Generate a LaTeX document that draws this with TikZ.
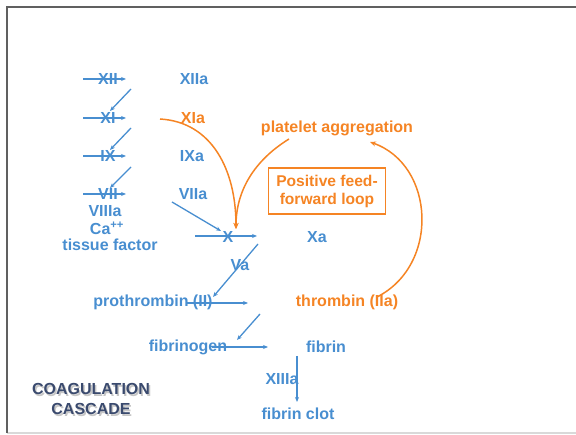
\documentclass[tikz,border=0pt]{standalone}
\usepackage{fontspec}
\setmainfont{Liberation Sans}
\usetikzlibrary{arrows.meta}
\definecolor{cblue}{RGB}{72,142,208}
\definecolor{corange}{RGB}{245,132,36}
\definecolor{cdark}{RGB}{58,74,110}
\begin{document}
\begin{tikzpicture}[x=1pt,y=-1pt,
  lbl/.style={font=\fontsize{16}{18}\selectfont\bfseries, text=cblue, inner sep=0pt},
  olbl/.style={lbl, text=corange},
  bar/.style={draw=cblue, line width=1.3pt, -{Stealth[length=5pt,width=4pt]}},
  oarc/.style={draw=corange, line width=1.5pt, -{Stealth[length=6pt,width=5pt]}},
  title/.style={font=\fontsize{16}{18}\selectfont\bfseries, text=cdark, inner sep=0pt},
  tshadow/.style={title, text=gray!45}]
\useasboundingbox (0,0) rectangle (576,435);
% frame
\draw[gray!30, line width=1.2pt] (7,433) -- (576,433);
\draw[gray!75!black, line width=2pt] (7,433) -- (7,7) -- (576,7);

% left column factors
\node[lbl] (xii) at (108,79) {XII};
\node[lbl] (xi) at (108,118) {XI};
\node[lbl] (ix) at (108,156) {IX};
\node[lbl] (vii) at (108,194) {VII};
\node[lbl] (viiia) at (105,211) {VIIIa};
\node[lbl] (ca) at (107,228) {Ca\textsuperscript{++}};
\node[lbl] (tf) at (110,245) {tissue factor};

% activated factors
\node[lbl] (xiia) at (194,79) {XIIa};
\node[olbl] (xia) at (193,118) {XIa};
\node[lbl] (ixa) at (192,156) {IXa};
\node[lbl] (viia) at (193,194) {VIIa};

% horizontal bars through factors
\coordinate (b1l) at (83,79);  \coordinate (b1r) at (126,79);
\coordinate (b2l) at (83,118); \coordinate (b2r) at (126,118);
\coordinate (b3l) at (83,156); \coordinate (b3r) at (126,156);
\coordinate (b4l) at (83,194); \coordinate (b4r) at (126,194);
\draw[bar] (b1l) -- (b1r);
\draw[bar] (b2l) -- (b2r);
\draw[bar] (b3l) -- (b3r);
\draw[bar] (b4l) -- (b4r);

% diagonals
\coordinate (d1) at (131,89);
\coordinate (d2) at (131,128);
\coordinate (d3) at (131,167);
\coordinate (d1e) at (110,111);
\coordinate (d2e) at (110,150);
\coordinate (d3e) at (110,188);
\draw[bar] (d1) -- (d1e);
\draw[bar] (d2) -- (d2e);
\draw[bar] (d3) -- (d3e);

% X
\node[lbl] (x) at (228,237) {X};
\node[lbl] (xa) at (317,237) {Xa};
\coordinate (xl) at (195,236); \coordinate (xr) at (257,236);
\draw[bar] (xl) -- (xr);
\coordinate (v7s) at (172,202); \coordinate (v7e) at (221,231);
\draw[bar] (v7s) -- (v7e);

% Va and prothrombin
\node[lbl] (va) at (240,265) {Va};
\coordinate (vas) at (258,244); \coordinate (vae) at (213,297);
\draw[bar] (vas) -- (vae);
\node[lbl] (pro) at (153,302) {prothrombin (II)};
\node[olbl] (thr) at (347,302) {thrombin (IIa)};
\coordinate (pl) at (187,303); \coordinate (pr) at (248,303);
\draw[bar] (pl) -- (pr);

% fibrinogen
\coordinate (fgs) at (260,314); \coordinate (fge) at (237,340);
\draw[bar] (fgs) -- (fge);
\node[lbl] (fg) at (188,347) {fibrinogen};
\node[lbl] (fb) at (326,347) {fibrin};
\coordinate (fl) at (212,347); \coordinate (fr) at (268,347);
\draw[bar] (fl) -- (fr);

% fibrin clot
\node[lbl] (xiiia) at (282,379) {XIIIa};
\node[lbl] (clot) at (298,414) {fibrin clot};
\coordinate (cv1) at (297,356); \coordinate (cv2) at (297,402);
\draw[bar] (cv1) -- (cv2);

% orange part
\node[olbl] (plat) at (337,128) {platelet aggregation};
\node[draw=corange, line width=1.5pt, text=corange, inner sep=0pt,
      font=\fontsize{15.6}{18}\selectfont\bfseries, align=center,
      minimum width=117pt, minimum height=46pt] (loop) at (327,191) {Positive feed-\\forward loop};
\coordinate (xias) at (160,119);
\coordinate (xtip) at (236,229);
\coordinate (plats) at (289,139);
\draw[oarc] (xias) .. controls (212,122) and (236,170) .. (xtip);
\draw[oarc] (plats) .. controls (255,160) and (236,190) .. (xtip);
\coordinate (thre) at (377,297);
\coordinate (plate) at (370,142);
\draw[oarc] (thre) .. controls (440,265) and (435,165) .. (plate);

% title
\node[tshadow] (t1s) at (92.5,390.5) {COAGULATION};
\node[tshadow] (t2s) at (92.5,410.5) {CASCADE};
\node[title] (t1) at (91,389) {COAGULATION};
\node[title] (t2) at (91,409) {CASCADE};
\end{tikzpicture}
\end{document}
